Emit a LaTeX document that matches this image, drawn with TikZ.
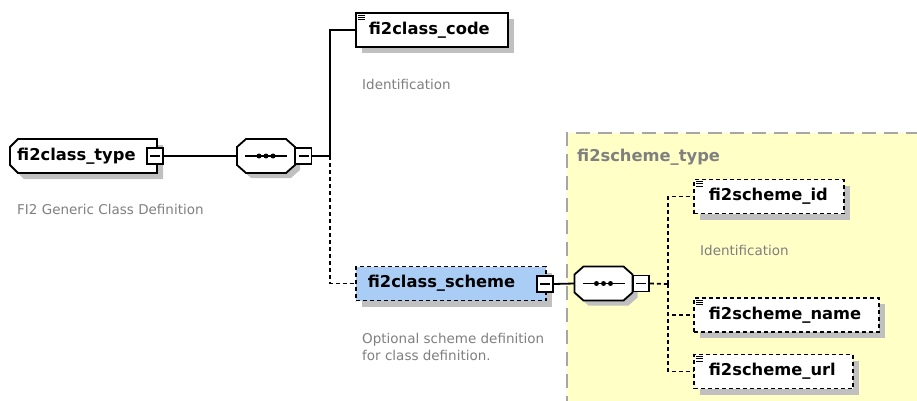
\documentclass[tikz,border=0pt]{standalone}
\usepackage{fontspec}
\setmainfont{DejaVu Sans}
\usetikzlibrary{shadows}

\definecolor{shadowgray}{HTML}{C0C0C0}
\definecolor{notegray}{HTML}{7F7F7F}
\definecolor{typefill}{HTML}{FFFFC6}
\definecolor{typeline}{HTML}{A6A6A6}
\definecolor{optfill}{HTML}{A9CDF5}

\tikzset{
  elemtext/.style={anchor=west, align=left, minimum height=34pt,
    font=\fontsize{16.3}{18}\selectfont\bfseries},
  elem/.style={elemtext, draw, line width=1.8pt, fill=white,
    drop shadow={shadow xshift=6pt, shadow yshift=-6pt, fill=shadowgray, opacity=1}},
  optelem/.style={elem, dash pattern=on 4pt off 3pt},
  note/.style={anchor=west, inner sep=0pt, align=left, text=notegray,
    font=\fontsize{13.5}{17}\selectfont},
  minus/.style={draw, line width=1.6pt, fill=white, minimum size=16pt, inner sep=0pt,
    path picture={\draw[line width=1.3pt] ([xshift=-5pt]path picture bounding box.center)
      -- ([xshift=5pt]path picture bounding box.center);}},
  link/.style={line width=1.8pt},
  optlink/.style={link, dash pattern=on 4pt off 3pt},
  seqbox/.pic={
    \fill[shadowgray, shift={(5,5)}] (-20,-17) -- (20,-17) -- (29,-9) -- (29,9) -- (20,17)
      -- (-20,17) -- (-29,9) -- (-29,-9) -- cycle;
    \draw[line width=1.8pt, fill=white] (-20,-17) -- (20,-17) -- (29,-9) -- (29,9) -- (20,17)
      -- (-20,17) -- (-29,9) -- (-29,-9) -- cycle;
    \draw[line width=1.6pt] (-21,0) -- (21,0);
    \foreach \d in {-7,0,7} \fill (\d,0) circle (2.5);
    \node[inner sep=0pt, minimum width=58pt, minimum height=34pt] (-c) at (0,0) {};
    \node[minus] (-m) at (37.5,0) {};
  },
}

\begin{document}
\begin{tikzpicture}[x=1pt,y=-1pt]
\useasboundingbox (0,0) rectangle (917,401);

% scheme type area
\fill[typefill] (567,133) rectangle (930,410);
\draw[typeline, line width=2pt, dash pattern=on 14pt off 8pt] (567,410) -- (567,133) -- (930,133);
\node[anchor=west, inner sep=0pt, text=notegray, font=\fontsize{16.3}{18}\selectfont\bfseries] (stype) at (577,157) {fi2scheme\_type};

% class type
\fill[shadowgray, shift={(6,6)}] (18,139) -- (157,139) -- (157,173) -- (18,173) -- (10,165) -- (10,147) -- cycle;
\draw[line width=1.8pt, fill=white] (18,139) -- (157,139) -- (157,173) -- (18,173) -- (10,165) -- (10,147) -- cycle;
\node[elemtext, text width=133pt, inner xsep=7pt] (ctype) at (10,156) {fi2class\_type};
\node[minus] (ctypem) at (155,156) {};
\node[note] (ntype) at (17,209) {FI2 Generic Class Definition};

\pic (seq1) at (266,156) {seqbox};

\node[elem, text width=126pt, inner xsep=13pt] (ccode) at (355,30) {fi2class\_code};
\node[note] (ncode) at (362,84) {Identification};

\node[optelem, fill=optfill, text width=166pt, inner xsep=12pt] (cscheme) at (355,283.5) {fi2class\_scheme};
\node[minus] (cschemem) at (545,284) {};
\node[note] (nscheme) at (362,347) {Optional scheme definition\\for class definition.};

\pic (seq2) at (603.5,283.5) {seqbox};

\node[optelem, text width=120pt, inner xsep=15pt] (sid) at (693,196.5) {fi2scheme\_id};
\node[note] (nid) at (700,250) {Identification};
\node[optelem, text width=155pt, inner xsep=15pt] (sname) at (693,315) {fi2scheme\_name};
\node[optelem, text width=129pt, inner xsep=15pt] (surl) at (693,371.5) {fi2scheme\_url};

% simple type marks
\foreach \n in {ccode,sid,sname,surl}
  \foreach \k in {3,5.3,7.6}
    \draw[line width=1pt] ([shift={(3,\k)}]\n.north west) -- ++(7,0);

% connectors
\coordinate (j1) at (330,156);
\coordinate (j2) at (668,284);
\draw[link] (ctypem.east) -- (seq1-c.west);
\draw[link] (seq1-m.east) -- (j1) |- (ccode.west);
\draw[optlink] (j1) |- (cscheme.west);
\draw[link] (cschemem.east) -- (seq2-c.west);
\draw[optlink] (seq2-m.east) -- (j2);
\draw[optlink] (j2) |- (sid.west);
\draw[optlink] (j2) |- (sname.west);
\draw[optlink] (j2) |- (surl.west);

\end{tikzpicture}
\end{document}
